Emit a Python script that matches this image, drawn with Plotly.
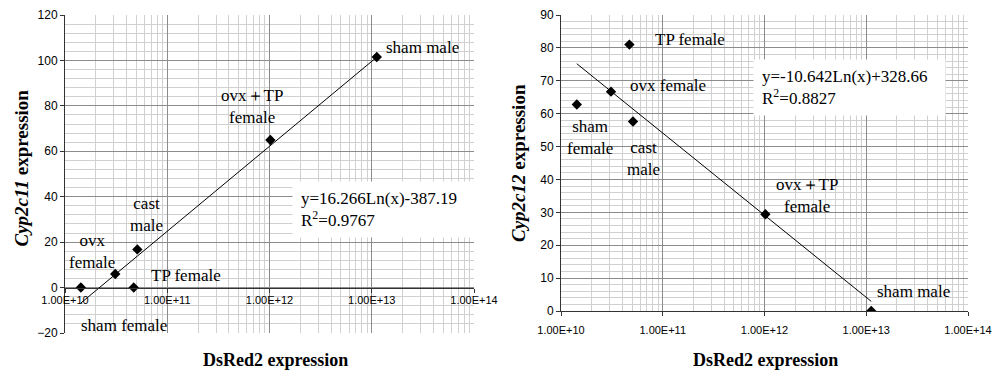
import numpy as np
import plotly.graph_objects as go

groups = ["sham male", "ovx＋TP female", "cast male", "ovx female", "TP female", "sham female"]
dsred2 = [1.12e13, 1.02e12, 5.1e10, 3.1e10, 4.7e10, 1.43e10]
cyp2c11 = [101.5, 65.0, 16.8, 6.0, 0.0, 0.0]
cyp2c12 = [0.0, 29.4, 57.6, 66.7, 81.0, 62.8]

x_tickvals = [1e10, 1e11, 1e12, 1e13, 1e14]
x_ticktext = ["1.00E+10", "1.00E+11", "1.00E+12", "1.00E+13", "1.00E+14"]

eq_left = "y=16.266Ln(x)-387.19<br>R<sup>2</sup>=0.9767"
eq_right = "y=-10.642Ln(x)+328.66<br>R<sup>2</sup>=0.8827"

W, H = 994, 372
def px(v):
    return v / W
def py(v):
    return (H - v) / H

fig = go.Figure()

def add_series(yvals, xa, ya):
    fig.add_trace(go.Scatter(x=dsred2, y=yvals, mode="markers", xaxis=xa, yaxis=ya,
                             marker=dict(symbol="diamond", size=8, color="black"),
                             text=groups, showlegend=False))
    lx = np.log(np.array(dsred2))
    k, b = np.polyfit(lx, np.array(yvals), 1)
    xs = np.array([min(dsred2), max(dsred2)])
    fig.add_trace(go.Scatter(x=xs, y=k * np.log(xs) + b, mode="lines", xaxis=xa, yaxis=ya,
                             line=dict(color="black", width=1), showlegend=False,
                             hoverinfo="skip"))

add_series(cyp2c11, "x", "y")
add_series(cyp2c12, "x2", "y2")

minor_x = [m * 10 ** e for e in range(10, 14) for m in range(2, 10)]
xtickfont = dict(family="Liberation Sans", size=11, color="black")
ytickfont = dict(family="Liberation Sans", size=12, color="black")
major_grid = "#8c8c8c"
minor_grid = "#d0d0d0"

xcommon = dict(type="log", tickmode="array", tickvals=x_tickvals, ticktext=x_ticktext,
               showgrid=True, gridcolor=major_grid, gridwidth=1,
               minor=dict(tickmode="array", tickvals=minor_x, showgrid=True,
                          gridcolor=minor_grid, ticks=""),
               showline=True, linecolor="#333333", linewidth=1,
               ticks="outside", ticklen=4, tickcolor="#333333",
               tickfont=xtickfont, zeroline=False, fixedrange=True, automargin=False)

ycommon = dict(showgrid=True, gridcolor=major_grid,
               showline=True, linecolor="#333333", linewidth=1,
               ticks="outside", ticklen=4, tickcolor="#333333",
               tickfont=ytickfont, zeroline=False, automargin=False, fixedrange=True)

fig.update_layout(
    width=W, height=H,
    margin=dict(l=0, r=0, t=0, b=0),
    paper_bgcolor="white", plot_bgcolor="white",
    xaxis=dict(xcommon, domain=[px(65), px(474)], range=[10, 14],
               anchor="free", position=py(288), ticklabelstandoff=-2),
    yaxis=dict(ycommon, domain=[py(333), py(15)], range=[-20, 120], dtick=20, anchor="x",
               minor=dict(dtick=4, showgrid=True, gridcolor=minor_grid, ticks="")),
    xaxis2=dict(xcommon, domain=[px(561), px(968)], range=[10, 14], anchor="y2",
                ticklabelstandoff=5),
    yaxis2=dict(ycommon, domain=[py(311), py(15)], range=[0, 90], dtick=10, anchor="x2",
                minor=dict(dtick=2, showgrid=True, gridcolor=minor_grid, ticks="")),
)

lab = dict(family="Liberation Serif", size=17, color="black")
ann = []
def label(text, x, y, xr, yr, xanchor="center"):
    ann.append(dict(text=text, x=x, y=y, xref=xr, yref=yr, xanchor=xanchor,
                    yanchor="middle", showarrow=False, font=lab, align="center"))

# left chart labels (x in log10 units)
label("sham male", 13.12, 105.5, "x", "y", "left")
label("ovx＋TP<br>female", 11.83, 79.5, "x", "y")
label("cast<br>male", 10.80, 32.2, "x", "y")
label("ovx<br>female", 10.26, 15.9, "x", "y")
label("TP female", 10.82, 5.1, "x", "y", "left")
label("sham female", 10.14, -16.5, "x", "y", "left")
# right chart labels
label("TP female", 10.90, 82.4, "x2", "y2", "left")
label("ovx female", 10.66, 68.5, "x2", "y2", "left")
label("sham<br>female", 10.285, 52.9, "x2", "y2")
label("cast<br>male", 10.81, 46.4, "x2", "y2")
label("ovx＋TP<br>female", 12.42, 35.0, "x2", "y2")
label("sham male", 13.09, 5.9, "x2", "y2", "left")

# equation boxes
ann.append(dict(text=eq_left, x=12.22, y=34.35, xref="x", yref="y", xanchor="left",
                yanchor="middle", showarrow=False, font=lab, align="left",
                bgcolor="white", borderpad=8, width=165, height=39))
ann.append(dict(text=eq_right, x=11.887, y=67.95, xref="x2", yref="y2", xanchor="left",
                yanchor="middle", showarrow=False, font=lab, align="left",
                bgcolor="white", borderpad=8, width=175, height=39))

# axis titles
xtfont = dict(family="Liberation Serif", size=18, color="black")
ytfont = dict(family="Liberation Serif", size=19, color="black")
ann.append(dict(text="<b>DsRed2 expression</b>", x=px(275.5), y=py(360), xref="paper",
                yref="paper", showarrow=False, font=xtfont, xanchor="center", yanchor="middle"))
ann.append(dict(text="<b>DsRed2 expression</b>", x=px(765.5), y=py(360), xref="paper",
                yref="paper", showarrow=False, font=xtfont, xanchor="center", yanchor="middle"))
ann.append(dict(text="<b><i>Cyp2c11</i> expression</b>", x=px(21), y=py(249), xref="paper",
                yref="paper", showarrow=False, font=ytfont, textangle=-90,
                xanchor="center", yanchor="bottom"))
ann.append(dict(text="<b><i>Cyp2c12</i> expression</b>", x=px(518), y=py(244), xref="paper",
                yref="paper", showarrow=False, font=ytfont, textangle=-90,
                xanchor="center", yanchor="bottom"))

fig.update_layout(annotations=ann)
fig.write_html("out.html", config={"displayModeBar": False},
               post_script="document.body.style.margin='0';document.body.style.overflow='hidden';")
